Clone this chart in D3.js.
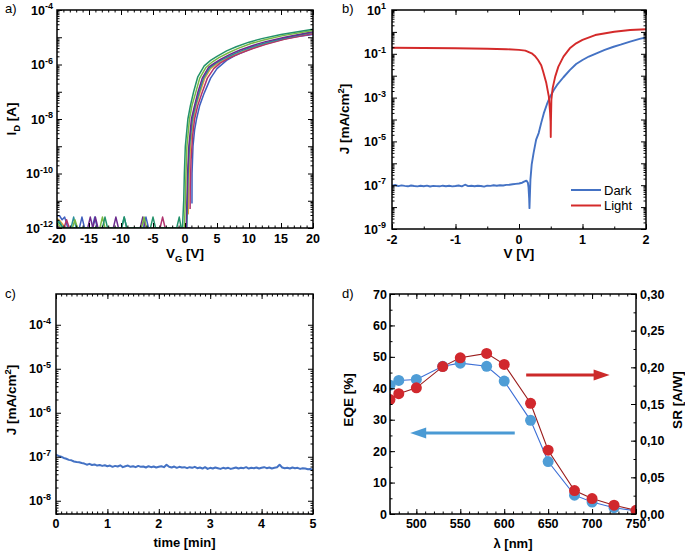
<!DOCTYPE html>
<html><head><meta charset="utf-8">
<script src="https://cdn.jsdelivr.net/npm/d3@7"></script>
<style>
body{margin:0;background:#fff}
text{font-family:"Liberation Sans",Arial,sans-serif}
</style>
</head><body>
<svg id="chart" width="685" height="552"></svg>
<script>
// ---------------- DATA ----------------
// Panel a: transfer curves, [V_G (V), log10(I_D / A)], null = gap
const tfBlue = [[-20,-11.55],[-19.6,-11.55],[-19.2,-11.7],[-18.8,-11.6],[-18.3,-12],[-16.5,-12],[-16.1,-11.6],[-15.7,-12],[-14.5,-12],[-14.1,-11.6],[-13.7,-12],[-6.5,-12],[-6.1,-11.6],[-5.7,-12],[0.9,-12],null,
  [1.09,-11.1],[1.1,-10],[1.25,-9],[1.5,-8.4],[1.8,-8],[2.3,-7.5],[3,-7.05],[4,-6.5],[5,-6.15],[6.5,-5.85],[8,-5.65],[10,-5.45],[12,-5.28],[15,-5.08],[17.5,-4.97],[20,-4.9]];
const tfOrange = [[-20,-11.65],[-19.5,-11.75],[-19,-11.9],[-18.5,-12],[0.4,-12],null,
  [0.5,-11.5],[0.55,-11],[0.65,-10],[0.85,-9],[1.25,-8.1],[1.75,-7.5],[2.35,-7.03],[3.1,-6.5],[4,-6.15],[5,-5.98],[6,-5.85],[7.5,-5.68],[9,-5.53],[11,-5.37],[13,-5.22],[16,-5.04],[20,-4.84]];
const tfMagenta = [[-20,-12],[-18.9,-12],[-18.5,-11.7],[-18.1,-12],[-3.9,-12],[-3.5,-11.6],[-3.1,-12],[0.7,-12],null,
  [0.8,-11.3],[0.82,-10.5],[0.95,-9.5],[1.2,-8.6],[1.5,-8],[2,-7.5],[2.65,-7.05],[3.5,-6.5],[4.5,-6.15],[5.5,-5.95],[7,-5.75],[8.5,-5.6],[10.5,-5.42],[12.5,-5.27],[15.5,-5.07],[20,-4.87]];
const tfTeal = [[-20,-11.7],[-19.5,-11.8],[-19.1,-12],[-17.8,-12],[-17.4,-11.6],[-17,-12],[-9.9,-12],[-9.5,-11.6],[-9.1,-12],[0.3,-12],
  [0.4,-10.8],[0.5,-10],[0.7,-9],[1.15,-8],[1.65,-7.5],[2.2,-7.03],[2.9,-6.5],[3.85,-6.12],[4.8,-5.96],[5.8,-5.82],[7.3,-5.65],[8.8,-5.5],[10.8,-5.33],[12.8,-5.19],[15.8,-5.02],[20,-4.82]];
const tfPurple = [[-20,-11.9],[-19.6,-12],[-15.2,-12],[-14.8,-11.6],[-14.4,-12],[-14,-11.6],[-13.6,-12],[-11.2,-12],[-10.8,-11.6],[-10.4,-12],[-7,-12],[-6.6,-11.6],[-6.2,-12],[0.2,-12],
  [0.3,-11],[0.4,-10],[0.6,-9],[1,-8],[1.5,-7.5],[2,-7.03],[2.7,-6.5],[3.7,-6.1],[4.6,-5.95],[5.6,-5.8],[7.1,-5.62],[8.6,-5.47],[10.6,-5.3],[12.6,-5.16],[15.6,-5],[20,-4.8]];
const tfLightGreen = [[-20,-11.8],[-19.4,-12],[-17.6,-12],[-17.2,-11.7],[-16.8,-12],[-13.3,-12],[-12.9,-11.6],[-12.5,-12],[-6.8,-12],[-6.4,-11.6],[-6,-12],[-0.1,-12],
  [0.05,-11],[0.15,-10],[0.3,-9],[0.7,-8],[1.1,-7.5],[1.65,-7.05],[2.3,-6.5],[3.3,-6.1],[4.3,-5.9],[5.3,-5.75],[6.8,-5.57],[8.3,-5.41],[10.3,-5.23],[12.3,-5.1],[15.3,-4.94],[20,-4.75]];
const tfGreen = [[-20,-11.75],[-19.5,-11.85],[-19,-12],[-12.9,-12],[-12.5,-11.6],[-12.1,-12],[-9.9,-12],[-9.5,-11.6],[-9.1,-12],[-5.4,-12],[-5,-11.6],[-4.6,-12],[-1.3,-12],[-0.9,-11.6],[-0.6,-12],[-0.4,-12],
  [-0.2,-11],[-0.1,-10],[0.05,-9],[0.45,-8],[0.85,-7.5],[1.35,-7],[2,-6.45],[3,-6.05],[4,-5.85],[5,-5.7],[6.5,-5.5],[8,-5.35],[10,-5.18],[12,-5.05],[15,-4.9],[20,-4.71]];
const tfCurves = [tfBlue, tfOrange, tfMagenta, tfTeal, tfPurple, tfLightGreen, tfGreen];
const tfColors = ["#3f5fbf","#e0a23a","#b0336e","#2a8f9a","#6a2a8e","#78b843","#23926a"];
const aXTicks = [-20,-15,-10,-5,0,5,10,15,20];
const aYLabelExp = [-4,-6,-8,-10,-12];

// Panel b: J-V, dark and light
const darkV = [-2,-1.95,-1.9,-1.85,-1.8,-1.75,-1.7,-1.65,-1.6,-1.55,-1.5,-1.45,-1.4,-1.35,-1.3,-1.25,-1.2,-1.15,-1.1,-1.05,-1,-0.95,-0.9,-0.85,-0.8,-0.75,-0.7,-0.65,-0.6,-0.55,-0.5,-0.45,-0.4,-0.35,-0.3,-0.25,-0.2,-0.15,-0.1,-0.05,0,0.05,0.08,0.1,0.12,0.14,0.15,0.16,0.165,0.17,0.18,0.2,0.23,0.27,0.31,0.35,0.39,0.44,0.49,0.55,0.6,0.7,0.8,0.9,1,1.1,1.22,1.35,1.49,1.6,1.75,1.9,2];
const darkJ = [9.5e-8,1.02e-7,9.1e-8,9.8e-8,9.3e-8,8.9e-8,9.7e-8,9.2e-8,8.8e-8,9.4e-8,9.0e-8,9.6e-8,8.7e-8,9.3e-8,9.1e-8,8.9e-8,9.5e-8,9.0e-8,9.4e-8,8.8e-8,9.2e-8,9.7e-8,8.9e-8,1.05e-7,9.1e-8,9.4e-8,9.0e-8,9.5e-8,9.2e-8,8.6e-8,9.6e-8,9.3e-8,9.9e-8,9.4e-8,1.0e-7,9.7e-8,1.03e-7,1.05e-7,1.1e-7,1.15e-7,1.2e-7,1.3e-7,1.45e-7,1.55e-7,1.6e-7,1.3e-7,8e-8,2.5e-8,9e-9,2.5e-8,1.8e-7,9e-7,3e-6,1.2e-5,2.4e-5,7e-5,1.9e-4,5e-4,1.1e-3,2.3e-3,3.8e-3,8.5e-3,1.8e-2,3.4e-2,5.2e-2,7.5e-2,1.05e-1,1.5e-1,2.1e-1,2.6e-1,3.6e-1,4.8e-1,5.6e-1];
const lightV = [-2,-1.5,-1,-0.5,-0.2,0,0.1,0.2,0.25,0.3,0.35,0.38,0.43,0.47,0.49,0.497,0.5,0.503,0.51,0.53,0.57,0.62,0.7,0.8,0.9,1,1.2,1.5,1.75,2];
const lightJ = [0.19,0.185,0.178,0.17,0.162,0.151,0.14,0.105,0.08,0.052,0.03,0.0155,4.6e-3,1.1e-3,2e-4,8e-5,1.6e-5,8e-5,8e-4,2.7e-3,9.1e-3,2.6e-2,7.4e-2,0.178,0.3,0.43,0.72,1.02,1.23,1.32];
const bXTicks = [-2,-1,0,1,2];
const bYLabelExp = [1,-1,-3,-5,-7,-9];
const bLegend = ["Dark","Light"];

// Panel c: J vs time
const timeMin = [0,0.05,0.1,0.15,0.2,0.25,0.3,0.35,0.4,0.45,0.5,0.55,0.6,0.65,0.7,0.75,0.8,0.85,0.9,0.95,1,1.05,1.1,1.15,1.2,1.25,1.3,1.35,1.4,1.45,1.5,1.55,1.6,1.65,1.7,1.75,1.8,1.85,1.9,1.95,2,2.05,2.1,2.15,2.2,2.25,2.3,2.35,2.4,2.45,2.5,2.55,2.6,2.65,2.7,2.75,2.8,2.85,2.9,2.95,3,3.05,3.1,3.15,3.2,3.25,3.3,3.35,3.4,3.45,3.5,3.55,3.6,3.65,3.7,3.75,3.8,3.85,3.9,3.95,4,4.05,4.1,4.15,4.2,4.25,4.3,4.35,4.4,4.45,4.5,4.55,4.6,4.65,4.7,4.75,4.8,4.85,4.9,4.95,5];
const timeJ = [1.12e-7,1.05e-7,1.0e-7,9.4e-8,9.0e-8,8.5e-8,8.3e-8,7.8e-8,7.6e-8,7.5e-8,7.2e-8,7.0e-8,6.6e-8,6.9e-8,6.5e-8,6.7e-8,6.3e-8,6.5e-8,6.2e-8,6.4e-8,6.1e-8,6.3e-8,5.9e-8,6.2e-8,6.0e-8,6.4e-8,5.8e-8,6.1e-8,6.3e-8,5.9e-8,6.1e-8,5.8e-8,6.2e-8,5.9e-8,6.0e-8,5.7e-8,6.1e-8,5.8e-8,6.0e-8,5.7e-8,5.9e-8,6.1e-8,5.8e-8,6.6e-8,5.9e-8,5.7e-8,6.0e-8,5.6e-8,5.9e-8,5.7e-8,5.8e-8,5.5e-8,5.8e-8,5.6e-8,5.9e-8,5.5e-8,5.7e-8,5.4e-8,5.8e-8,5.3e-8,5.6e-8,5.4e-8,5.7e-8,5.5e-8,5.3e-8,5.6e-8,5.4e-8,5.6e-8,5.3e-8,5.5e-8,5.7e-8,5.4e-8,5.6e-8,5.5e-8,5.8e-8,5.4e-8,5.6e-8,5.5e-8,5.7e-8,5.4e-8,5.6e-8,5.8e-8,5.5e-8,5.7e-8,5.4e-8,5.6e-8,5.8e-8,6.6e-8,5.7e-8,5.5e-8,5.6e-8,5.4e-8,5.7e-8,5.5e-8,5.6e-8,5.3e-8,5.5e-8,5.4e-8,5.2e-8,5.3e-8,5.0e-8];
const cXTicks = [0,1,2,3,4,5];
const cYLabelExp = [-4,-5,-6,-7,-8];

// Panel d: EQE and SR spectra
const wavelength = [470,480,500,530,550,580,600,630,650,680,700,725,750];
const eqe = [41,42.5,42.8,47,48,47,42.3,29.8,16.7,6,3.8,2,1];
const sr = [0.156,0.164,0.172,0.201,0.213,0.219,0.204,0.151,0.087,0.032,0.021,0.012,0.005];
const dXTicks = [500,550,600,650,700,750];
const dYTicks = [0,10,20,30,40,50,60,70];
const dYRTicks = [0,0.05,0.10,0.15,0.20,0.25,0.30];

// ---------------- DRAWING ----------------
const svg = d3.select("#chart");
const TICK_FS = 12.5, TITLE_FS = 13.5;
const P = {
  a:{l:57,r:313,t:10,b:228},
  b:{l:392,r:646,t:10,b:229},
  c:{l:56,r:313,t:294,b:514},
  d:{l:390,r:636,t:294,b:514}
};

function logMinors(lo, hi){
  const out=[];
  for(let e=lo;e<hi;e++) for(let k=2;k<=9;k++) out.push(k*Math.pow(10,e));
  return out;
}
function decades(lo,hi){const o=[];for(let e=lo;e<=hi;e++)o.push(Math.pow(10,e));return o;}
function range(a,b,s){const o=[];for(let v=a;v<=b+1e-9;v+=s)o.push(+v.toFixed(6));return o;}

function ticks(g,p,xS,yS,o,yR){
  const add=(gen,tx,ty,vals,size)=>{
    const a=g.append("g").attr("transform",`translate(${tx},${ty})`)
      .call(gen.tickValues(vals).tickSize(size).tickFormat(""));
    a.select(".domain").remove();
    a.selectAll("line").attr("stroke","#000").attr("stroke-width",1);
  };
  add(d3.axisBottom(xS),0,p.b,o.xMajor,-5);
  add(d3.axisBottom(xS),0,p.b,o.xMinor,-2.5);
  add(d3.axisTop(xS),0,p.t,o.xMajor,-5);
  add(d3.axisTop(xS),0,p.t,o.xMinor,-2.5);
  add(d3.axisLeft(yS),p.l,0,o.yMajor,-5);
  add(d3.axisLeft(yS),p.l,0,o.yMinor,-2.5);
  const ys = yR||yS;
  add(d3.axisRight(ys),p.r,0,o.yRMajor||o.yMajor,-5);
  add(d3.axisRight(ys),p.r,0,o.yRMinor||o.yMinor,-2.5);
  g.append("rect").attr("x",p.l).attr("y",p.t).attr("width",p.r-p.l).attr("height",p.b-p.t)
    .attr("fill","none").attr("stroke","#000").attr("stroke-width",1.5);
}
function txt(x,y,s,opt={}){
  return svg.append("text").attr("x",x).attr("y",y).text(s)
    .attr("font-size",opt.size||TICK_FS).attr("font-weight",opt.weight||"bold")
    .attr("text-anchor",opt.anchor||"middle").attr("fill","#000");
}
function powLabel(x,y,exp,anchor){
  const t=svg.append("text").attr("x",x).attr("y",y).attr("text-anchor",anchor||"end")
    .attr("font-size",TICK_FS).attr("font-weight","bold");
  t.append("tspan").text("10");
  t.append("tspan").attr("dy",-5.5).attr("font-size",9).text(String(exp));
  return t;
}
function clip(id,p){
  svg.append("clipPath").attr("id",id).append("rect")
    .attr("x",p.l).attr("y",p.t-3).attr("width",p.r-p.l).attr("height",p.b-p.t+3);
}
function jTitle(x,y){
  const t=svg.append("text").attr("transform",`translate(${x},${y}) rotate(-90)`).attr("text-anchor","middle")
    .attr("font-size",TITLE_FS).attr("font-weight","bold");
  t.append("tspan").text("J [mA/cm");
  t.append("tspan").attr("dy",-5.5).attr("font-size",9.5).text("2");
  t.append("tspan").attr("dy",5.5).text("]");
}

// ---- Panel a ----
{
  const p=P.a;
  const x=d3.scaleLinear([-20,20],[p.l,p.r]);
  const y=d3.scaleLog([1e-12,1e-4],[p.b,p.t]);
  clip("ca",p);
  const line=d3.line().defined(d=>d!==null).x(d=>x(d[0])).y(d=>y(Math.pow(10,d[1])));
  const g=svg.append("g").attr("clip-path","url(#ca)");
  tfCurves.forEach((c,i)=>g.append("path").attr("d",line(c)).attr("fill","none")
    .attr("stroke",tfColors[i]).attr("stroke-width",1.5).attr("stroke-linejoin","round"));
  ticks(svg.append("g"),p,x,y,{xMajor:aXTicks,xMinor:range(-20,20,1),yMajor:decades(-12,-4),yMinor:logMinors(-12,-4)});
  aXTicks.forEach(v=>txt(x(v),p.b+15,String(v)));
  aYLabelExp.forEach(e=>powLabel(p.l-4,y(Math.pow(10,e))+4.5,e));
  const t=svg.append("text").attr("transform",`translate(16,119) rotate(-90)`).attr("text-anchor","middle")
    .attr("font-size",TITLE_FS).attr("font-weight","bold");
  t.append("tspan").text("I");
  t.append("tspan").attr("dy",3.5).attr("font-size",9.5).text("D");
  t.append("tspan").attr("dy",-3.5).text(" [A]");
  const tx=svg.append("text").attr("x",x(0)).attr("y",258).attr("text-anchor","middle")
    .attr("font-size",TITLE_FS).attr("font-weight","bold");
  tx.append("tspan").text("V");
  tx.append("tspan").attr("dy",3.5).attr("font-size",9.5).text("G");
  tx.append("tspan").attr("dy",-3.5).text(" [V]");
  txt(5,13,"a)",{anchor:"start",weight:"normal",size:13});
}

// ---- Panel b ----
{
  const p=P.b;
  const x=d3.scaleLinear([-2,2],[p.l,p.r]);
  const y=d3.scaleLog([1e-9,1e1],[p.b,p.t]);
  clip("cb",p);
  const g=svg.append("g").attr("clip-path","url(#cb)");
  const line=d3.line().x(d=>x(d[0])).y(d=>y(d[1]));
  g.append("path").attr("d",line(darkV.map((v,i)=>[v,darkJ[i]]))).attr("fill","none")
    .attr("stroke","#4472c4").attr("stroke-width",1.9).attr("stroke-linejoin","round");
  g.append("path").attr("d",line(lightV.map((v,i)=>[v,lightJ[i]]))).attr("fill","none")
    .attr("stroke","#d42a2a").attr("stroke-width",1.9).attr("stroke-linejoin","round");
  ticks(svg.append("g"),p,x,y,{xMajor:bXTicks,xMinor:range(-2,2,0.5),yMajor:decades(-9,1),yMinor:logMinors(-9,1)});
  bXTicks.forEach(v=>txt(x(v),p.b+15,String(v)));
  bYLabelExp.forEach(e=>powLabel(p.l-6,y(Math.pow(10,e))+4.5,e));
  jTitle(349,119);
  txt(x(0),258,"V [V]",{size:TITLE_FS});
  txt(342,13,"b)",{anchor:"start",weight:"normal",size:13});
  const lc=["#4472c4","#d42a2a"];
  bLegend.forEach((s,i)=>{
    const yy=190+i*15.5;
    svg.append("line").attr("x1",571).attr("x2",601).attr("y1",yy).attr("y2",yy)
      .attr("stroke",lc[i]).attr("stroke-width",2);
    txt(604,yy+4.5,s,{anchor:"start",weight:"normal",size:13});
  });
}

// ---- Panel c ----
{
  const p=P.c;
  const x=d3.scaleLinear([0,5],[p.l,p.r]);
  const y=d3.scaleLog([5e-9,5e-4],[p.b,p.t]);
  clip("cc",p);
  const g=svg.append("g").attr("clip-path","url(#cc)");
  const line=d3.line().x(d=>x(d[0])).y(d=>y(d[1]));
  g.append("path").attr("d",line(timeMin.map((v,i)=>[v,timeJ[i]]))).attr("fill","none")
    .attr("stroke","#4472c4").attr("stroke-width",2).attr("stroke-linejoin","round");
  const minors=logMinors(-9,-4).filter(v=>v>=5e-9&&v<=5e-4);
  ticks(svg.append("g"),p,x,y,{xMajor:cXTicks,xMinor:range(0,5,0.1),yMajor:decades(-8,-4),yMinor:minors});
  cXTicks.forEach(v=>txt(x(v),p.b+14,String(v)));
  cYLabelExp.forEach(e=>powLabel(p.l-5,y(Math.pow(10,e))+4.5,e));
  jTitle(16,400);
  txt(x(2.5),547,"time [min]",{size:13});
  txt(5,298,"c)",{anchor:"start",weight:"normal",size:13});
}

// ---- Panel d ----
{
  const p=P.d;
  const x=d3.scaleLinear([470,750],[p.l,p.r]);
  const y=d3.scaleLinear([0,70],[p.b,p.t]);
  const yR=d3.scaleLinear([0,0.30],[p.b,p.t]);
  svg.append("clipPath").attr("id","cd").append("rect")
    .attr("x",p.l).attr("y",p.t).attr("width",p.r-p.l).attr("height",p.b-p.t);
  const g=svg.append("g").attr("clip-path","url(#cd)");
  const lb=d3.line().x((d,i)=>x(wavelength[i])).y(d=>y(d));
  const lr=d3.line().x((d,i)=>x(wavelength[i])).y(d=>yR(d));
  g.append("path").attr("d",lb(eqe)).attr("fill","none").attr("stroke","#3d6fd6").attr("stroke-width",1.1);
  g.append("path").attr("d",lr(sr)).attr("fill","none").attr("stroke","#9a1c1c").attr("stroke-width",1.1);
  g.selectAll(".pb").data(eqe).join("circle").attr("cx",(d,i)=>x(wavelength[i])).attr("cy",d=>y(d))
    .attr("r",5.5).attr("fill","#4f9dd6");
  g.selectAll(".pr").data(sr).join("circle").attr("cx",(d,i)=>x(wavelength[i])).attr("cy",d=>yR(d))
    .attr("r",5.5).attr("fill","#d1282d");
  ticks(svg.append("g"),p,x,y,{xMajor:dXTicks,xMinor:range(470,750,10),yMajor:dYTicks,yMinor:range(0,70,5),
    yRMajor:dYRTicks,yRMinor:range(0,0.30,0.025)},yR);
  dXTicks.forEach(v=>txt(x(v),p.b+14,String(v)));
  dYTicks.forEach(v=>txt(p.l-3,y(v)+4.5,String(v),{anchor:"end"}));
  dYRTicks.forEach(v=>txt(p.r+4,yR(v)+4.5,v.toFixed(2).replace(".",","),{anchor:"start"}));
  svg.append("text").attr("transform",`translate(353,400) rotate(-90)`).attr("text-anchor","middle")
    .attr("font-size",TITLE_FS).attr("font-weight","bold").text("EQE [%]");
  svg.append("text").attr("transform",`translate(682,400) rotate(-90)`).attr("text-anchor","middle")
    .attr("font-size",TITLE_FS).attr("font-weight","bold").text("SR [A/W]");
  txt(x(610),548,"λ [nm]",{size:13});
  txt(342,298,"d)",{anchor:"start",weight:"normal",size:13});
  const arrow=(x0,x1,yy,col)=>{
    const dir=Math.sign(x1-x0), hx=x(x1), sx=x(x0), py=y(yy);
    svg.append("line").attr("x1",sx).attr("x2",hx-dir*12).attr("y1",py).attr("y2",py)
      .attr("stroke",col).attr("stroke-width",3);
    svg.append("path").attr("d",`M${hx},${py}L${hx-dir*16},${py-5.5}L${hx-dir*16},${py+5.5}Z`).attr("fill",col);
  };
  arrow(625,720,44.2,"#cc2a2a");
  arrow(612,493,25.8,"#4a9ad4");
}
</script>
</body></html>
